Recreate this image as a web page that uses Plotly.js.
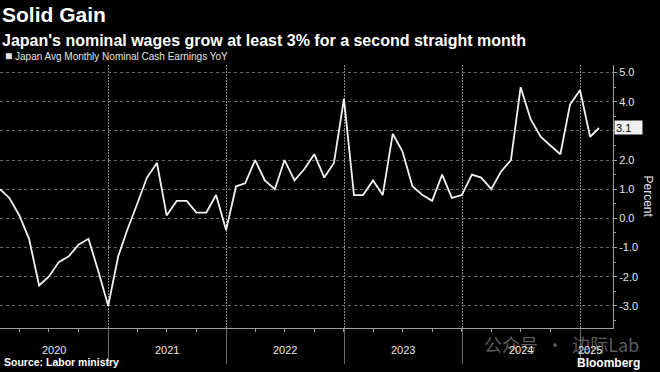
<!DOCTYPE html>
<html>
<head>
<meta charset="utf-8">
<script src="https://cdn.plot.ly/plotly-3.0.1.min.js"></script>
<style>
  html, body { margin: 0; padding: 0; background: #000; }
  #chart { width: 660px; height: 372px; }
</style>
</head>
<body>
<div id="chart"></div>
<script>
// ---- Data ----
const months = [
  "2020-01","2020-02","2020-03","2020-04","2020-05","2020-06","2020-07","2020-08","2020-09","2020-10","2020-11","2020-12",
  "2021-01","2021-02","2021-03","2021-04","2021-05","2021-06","2021-07","2021-08","2021-09","2021-10","2021-11","2021-12",
  "2022-01","2022-02","2022-03","2022-04","2022-05","2022-06","2022-07","2022-08","2022-09","2022-10","2022-11","2022-12",
  "2023-01","2023-02","2023-03","2023-04","2023-05","2023-06","2023-07","2023-08","2023-09","2023-10","2023-11","2023-12",
  "2024-01","2024-02","2024-03","2024-04","2024-05","2024-06","2024-07","2024-08","2024-09","2024-10","2024-11","2024-12",
  "2025-01","2025-02"
];
const earningsYoY = [
  1.0, 0.7, 0.1, -0.7, -2.3, -2.0, -1.5, -1.3, -0.9, -0.7, -1.8, -3.0,
  -1.3, -0.4, 0.5, 1.4, 1.9, 0.1, 0.6, 0.6, 0.2, 0.2, 0.8, -0.4,
  1.1, 1.2, 2.0, 1.3, 1.0, 2.0, 1.3, 1.7, 2.2, 1.4, 1.9, 4.1,
  0.8, 0.8, 1.3, 0.8, 2.9, 2.3, 1.1, 0.8, 0.6, 1.5, 0.7, 0.8,
  1.5, 1.4, 1.0, 1.6, 2.0, 4.5, 3.4, 2.8, 2.5, 2.2, 3.9, 4.4,
  2.8, 3.1
];
const yearLabels = ["2020","2021","2022","2023","2024","2025"];
const yTickVals = [-3, -2, -1, 0, 1, 2, 3, 4, 5];
const seriesName = "Japan Avg Monthly Nominal Cash Earnings YoY";
const titleText = "Solid Gain";
const subtitleText = "Japan's nominal wages grow at least 3% for a second straight month";
const sourceText = "Source: Labor ministry";
const brandText = "Bloomberg";
const watermarkText = "公众号 · 边际Lab";
const yAxisTitle = "Percent";

// ---- Helpers ----
function monthEnd(ym) {
  const [y, m] = ym.split("-").map(Number);
  return new Date(Date.UTC(y, m, 0)).toISOString().slice(0, 10);
}
const dates = months.map(monthEnd);
const quarterEnds = dates.filter(d => [3,6,9,12].includes(Number(d.slice(5,7))));
const yearStarts = yearLabels.slice(1).map(y => y + "-01-01");
const ms = s => new Date(s + "T00:00:00Z").getTime();
const iso = t => new Date(t).toISOString().slice(0, 10);
const firstT = ms(dates[0]), lastT = ms(dates[dates.length - 1]);
const labelCenters = yearLabels.map(y => {
  const a = Math.max(ms(y + "-01-01"), firstT);
  const b = Math.min(ms(y + "-12-31"), lastT);
  return iso((a + b) / 2);
});
const xRange = [dates[0], "2025-04-12"];
const lastVal = earningsYoY[earningsYoY.length - 1];
// the last-value tag covers the nearest tick label
const yTickText = yTickVals.map(v => Math.abs(v - lastVal) < 0.5 ? "" : v.toFixed(1));

const grid = "#6a6a6a";
const axisCol = "#a0a0a0";
const txt = "#e6e6e6";
const FONT = "Liberation Sans, Arial, sans-serif";

const plotTop = 65, plotBottom = 327.7, plotH = plotBottom - plotTop;
const py = pix => (plotBottom - pix) / plotH; // paper y from a pixel row

const traces = [{
  type: "scatter",
  mode: "lines",
  x: dates,
  y: earningsYoY,
  name: seriesName,
  line: { color: "#f2f2f2", width: 1.8 },
  showlegend: false
}];

const annotations = [
  {
    text: "<b>" + subtitleText + "</b>",
    xref: "paper", yref: "paper", x: 0, y: py(40.5),
    xanchor: "left", yanchor: "middle", showarrow: false, xshift: 0,
    font: { size: 16, color: "#fff", family: FONT }
  },
  {
    text: "<span style='font-size:12px'>■</span> " + seriesName,
    xref: "paper", yref: "paper", x: 0, y: py(56.5),
    xanchor: "left", yanchor: "middle", showarrow: false, xshift: 3,
    font: { size: 10, color: txt, family: FONT }
  },
  {
    text: yAxisTitle,
    xref: "paper", yref: "paper", x: 1, y: 0.5,
    xanchor: "center", yanchor: "middle", showarrow: false, xshift: 35,
    textangle: 90,
    font: { size: 12, color: txt, family: FONT }
  },
  {
    text: lastVal.toFixed(1),
    xref: "paper", yref: "y", x: 1, y: lastVal,
    xanchor: "left", yanchor: "middle", showarrow: false, xshift: 1,
    width: 25, height: 11, align: "left",
    bgcolor: "#f0f0f0", borderpad: 1,
    font: { size: 11, color: "#000", family: FONT }
  },
  {
    text: "<b>" + sourceText + "</b>",
    xref: "paper", yref: "paper", x: 0, y: py(362),
    xanchor: "left", yanchor: "middle", showarrow: false, xshift: 2,
    font: { size: 10.5, color: "#fff", family: FONT }
  },
  {
    text: "<b>" + brandText + "</b>",
    xref: "paper", yref: "paper", x: 1, y: py(363),
    xanchor: "right", yanchor: "middle", showarrow: false, xshift: 29,
    font: { size: 12, color: "#fff", family: FONT }
  },
  {
    text: watermarkText.replace(" · ", "  ·  "),
    xref: "paper", yref: "paper", x: 1, y: py(344),
    xanchor: "right", yanchor: "middle", showarrow: false, xshift: 28,
    font: { size: 18, color: "rgba(185,185,185,0.5)", family: "Noto Sans CJK SC, sans-serif" }
  }
];
yearLabels.forEach((y, i) => annotations.push({
  text: y,
  xref: "x", yref: "paper", x: labelCenters[i], y: py(350),
  xanchor: "center", yanchor: "middle", showarrow: false,
  font: { size: 11, color: txt, family: FONT }
}));

const layout = {
  width: 660, height: 372,
  paper_bgcolor: "#000", plot_bgcolor: "#000",
  margin: { l: 0, r: 47, t: plotTop, b: 372 - plotBottom },
  font: { family: FONT, color: txt },
  showlegend: false,
  title: {
    text: "<b>" + titleText + "</b>",
    font: { size: 21, color: "#fff", family: FONT },
    xref: "container", x: 0.003, xanchor: "left",
    yref: "container", y: 1 - 15 / 372, yanchor: "middle"
  },
  xaxis: {
    type: "date",
    range: xRange,
    tickmode: "array",
    tickvals: yearStarts,
    showticklabels: false,
    ticks: "outside", ticklen: 35, tickwidth: 1, tickcolor: "#6a6a6a",
    showgrid: true, gridcolor: "#8a8a8a", griddash: "2px,1px", gridwidth: 1.2,
    showline: true, linecolor: axisCol, linewidth: 1,
    zeroline: false,
    minor: { tickmode: "array", tickvals: quarterEnds, ticks: "outside", ticklen: 3, tickcolor: axisCol, showgrid: false }
  },
  yaxis: {
    side: "right",
    range: [-3.76, 5.26],
    tickmode: "array", tickvals: yTickVals, ticktext: yTickText,
    showgrid: true, gridcolor: grid, griddash: "dot", gridwidth: 1,
    zeroline: false,
    showline: true, linecolor: axisCol, linewidth: 1,
    ticks: "outside", ticklen: 3, tickcolor: axisCol,
    minor: { dtick: 0.5, ticks: "outside", ticklen: 2, tickcolor: axisCol, showgrid: false },
    tickfont: { size: 11, color: txt, family: FONT }
  },
  annotations: annotations
};

Plotly.newPlot("chart", traces, layout, { displayModeBar: false, staticPlot: true });
</script>
</body>
</html>
